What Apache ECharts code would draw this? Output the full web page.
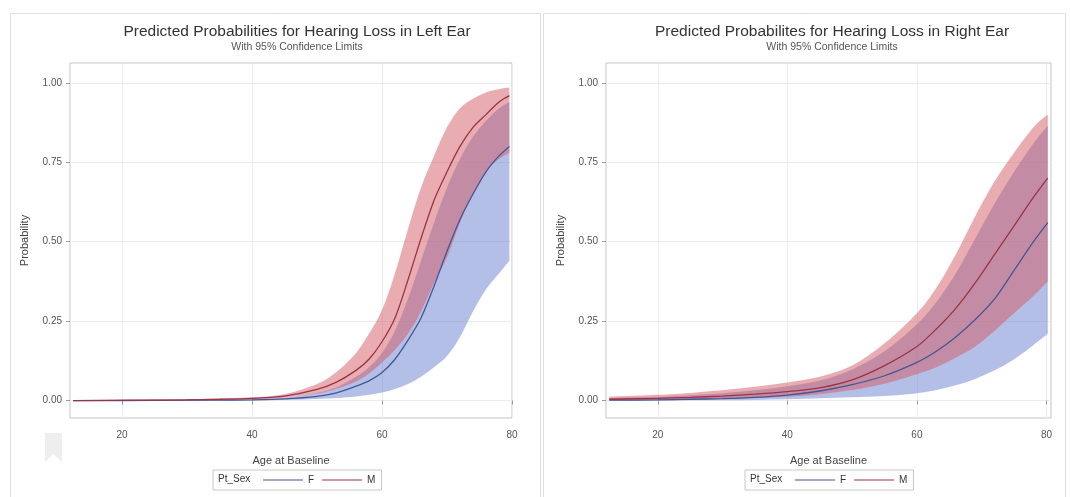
<!DOCTYPE html>
<html><head><meta charset="utf-8">
<script src="https://cdn.jsdelivr.net/npm/echarts@6/dist/echarts.min.js"></script>
<style>html,body{margin:0;padding:0;background:#fff}#c{width:1070px;height:497px}</style>
</head><body><div id="c"></div>
<script>
// ---- Data ----
const xTicks = [20, 40, 60, 80];
const yTicks = [0, 0.25, 0.5, 0.75, 1];

// Left ear
const leftAges   = [12.5, 20, 30, 35, 40, 45, 50, 53, 56, 58, 60, 62, 64, 66, 68, 70, 72, 74, 76, 78, 79.6];
const leftFLower = [0, 0, 0, 0, 0.001, 0.002, 0.005, 0.008, 0.013, 0.018, 0.025, 0.036, 0.052, 0.075, 0.105, 0.140, 0.200, 0.280, 0.350, 0.400, 0.440];
const leftFPred  = [0, 0, 0.001, 0.001, 0.002, 0.005, 0.013, 0.024, 0.045, 0.062, 0.088, 0.130, 0.190, 0.260, 0.360, 0.470, 0.570, 0.650, 0.720, 0.770, 0.800];
const leftFUpper = [0, 0.001, 0.001, 0.002, 0.004, 0.009, 0.024, 0.042, 0.075, 0.105, 0.150, 0.220, 0.320, 0.440, 0.560, 0.670, 0.760, 0.830, 0.880, 0.920, 0.940];
const leftMLower = [0, 0, 0.001, 0.002, 0.004, 0.009, 0.022, 0.037, 0.060, 0.085, 0.120, 0.160, 0.210, 0.280, 0.370, 0.450, 0.560, 0.650, 0.720, 0.760, 0.780];
const leftMPred  = [0, 0.001, 0.002, 0.004, 0.007, 0.014, 0.035, 0.058, 0.095, 0.130, 0.185, 0.260, 0.380, 0.510, 0.630, 0.720, 0.800, 0.860, 0.900, 0.940, 0.960];
const leftMUpper = [0.001, 0.002, 0.004, 0.006, 0.010, 0.020, 0.052, 0.090, 0.150, 0.210, 0.285, 0.400, 0.540, 0.670, 0.770, 0.860, 0.920, 0.950, 0.970, 0.980, 0.985];

// Right ear
const rightAges   = [12.5, 20, 25, 30, 35, 40, 45, 50, 55, 60, 63, 66, 69, 72, 75, 78, 80.2];
const rightFLower = [0, 0, 0.001, 0.001, 0.002, 0.004, 0.007, 0.010, 0.014, 0.023, 0.033, 0.048, 0.068, 0.095, 0.130, 0.175, 0.210];
const rightFPred  = [0.001, 0.002, 0.004, 0.006, 0.010, 0.017, 0.030, 0.050, 0.078, 0.120, 0.155, 0.200, 0.255, 0.320, 0.410, 0.500, 0.560];
const rightFUpper = [0.008, 0.012, 0.017, 0.023, 0.032, 0.045, 0.063, 0.098, 0.155, 0.240, 0.310, 0.400, 0.510, 0.620, 0.720, 0.810, 0.865];
const rightMLower = [0.001, 0.002, 0.003, 0.005, 0.008, 0.012, 0.020, 0.033, 0.053, 0.083, 0.105, 0.135, 0.170, 0.220, 0.275, 0.330, 0.375];
const rightMPred  = [0.004, 0.007, 0.010, 0.014, 0.020, 0.028, 0.040, 0.065, 0.110, 0.170, 0.225, 0.290, 0.370, 0.460, 0.550, 0.640, 0.700];
const rightMUpper = [0.012, 0.018, 0.024, 0.032, 0.043, 0.057, 0.075, 0.110, 0.180, 0.275, 0.355, 0.460, 0.580, 0.690, 0.780, 0.860, 0.900];

const titles = ['Predicted Probabilities for Hearing Loss in Left Ear', 'Predicted Probabilites for Hearing Loss in Right Ear'];
const subTitle = 'With 95% Confidence Limits';

// ---- Styles ----
const FONT = '"Liberation Sans", Arial, sans-serif';
const blueFill = '#6a7fd0', redFill = '#d45a62';
const blueLine = '#445694', redLine = '#9c3346';

const pairs = (xs, ys) => xs.map((x, i) => [x, ys[i]]);

// Catmull-Rom through pixel points -> SVG path commands (first point uses 'M' or 'L')
function crPath(pts, start) {
  let d = start + pts[0][0].toFixed(2) + ' ' + pts[0][1].toFixed(2);
  for (let i = 0; i < pts.length - 1; i++) {
    const p0 = pts[Math.max(0, i - 1)], p1 = pts[i], p2 = pts[i + 1], p3 = pts[Math.min(pts.length - 1, i + 2)];
    const c1 = [p1[0] + (p2[0] - p0[0]) / 6, p1[1] + (p2[1] - p0[1]) / 6];
    const c2 = [p2[0] - (p3[0] - p1[0]) / 6, p2[1] - (p3[1] - p1[1]) / 6];
    d += ' C' + c1[0].toFixed(2) + ' ' + c1[1].toFixed(2) + ' ' + c2[0].toFixed(2) + ' ' + c2[1].toFixed(2) + ' ' + p2[0].toFixed(2) + ' ' + p2[1].toFixed(2);
  }
  return d;
}

function bandSeries(name, idx, ages, lo, up, color) {
  return {
    type: 'custom', name: name, xAxisIndex: idx, yAxisIndex: idx, silent: true, clip: true,
    data: [[ages[0], lo[0]]],
    renderItem: function (params, api) {
      const upPts = ages.map((a, k) => api.coord([a, up[k]]));
      const loPts = ages.map((a, k) => api.coord([a, lo[k]])).reverse();
      const d = crPath(upPts, 'M') + ' ' + crPath(loPts, 'L') + ' Z';
      return {type: 'path', shape: {pathData: d}, style: {fill: color, opacity: 0.5, stroke: null}};
    }
  };
}

const panels = [
  {ages: leftAges, FL: leftFLower, FP: leftFPred, FU: leftFUpper, ML: leftMLower, MP: leftMPred, MU: leftMUpper, xmin: 12, xmax: 80},
  {ages: rightAges, FL: rightFLower, FP: rightFPred, FU: rightFUpper, ML: rightMLower, MP: rightMPred, MU: rightMUpper, xmin: 12, xmax: 80.7}
];
const grids = [
  {left: 70, top: 63, width: 442, height: 355},
  {left: 606, top: 63, width: 445, height: 355}
];

const series = [];
panels.forEach((p, i) => {
  const lineBase = {type: 'line', xAxisIndex: i, yAxisIndex: i, showSymbol: false, symbol: 'none', smooth: 0.3, silent: true};
  series.push(bandSeries('F band ' + i, i, p.ages, p.FL, p.FU, blueFill));
  series.push(Object.assign({}, lineBase, {name: 'F', data: pairs(p.ages, p.FP), color: blueLine, lineStyle: {color: blueLine, width: 1.3}}));
  series.push(bandSeries('M band ' + i, i, p.ages, p.ML, p.MU, redFill));
  series.push(Object.assign({}, lineBase, {name: 'M', data: pairs(p.ages, p.MP), color: redLine, lineStyle: {color: redLine, width: 1.3}}));
});

const xAxes = panels.map((p, i) => ({
  type: 'value', gridIndex: i, min: p.xmin, max: p.xmax,
  name: 'Age at Baseline', nameLocation: 'middle', nameGap: 37,
  nameTextStyle: {fontFamily: FONT, fontSize: 11, color: '#444'},
  axisLine: {show: false},
  axisTick: {show: true, length: 4, lineStyle: {color: '#999'}, customValues: xTicks},
  axisLabel: {customValues: xTicks, fontFamily: FONT, fontSize: 10, color: '#555', margin: 12},
  splitLine: {show: true, lineStyle: {color: '#ececec', width: 1}}
}));
const yAxes = panels.map((p, i) => ({
  type: 'value', gridIndex: i, min: -0.055, max: 1.0625,
  name: 'Probability', nameLocation: 'middle', nameGap: 40,
  nameTextStyle: {fontFamily: FONT, fontSize: 11, color: '#444'},
  axisLine: {show: false},
  axisTick: {show: true, length: 4, lineStyle: {color: '#999'}, customValues: yTicks},
  axisLabel: {customValues: yTicks, formatter: v => v.toFixed(2), fontFamily: FONT, fontSize: 10, color: '#555', margin: 8},
  splitLine: {show: true, lineStyle: {color: '#ececec', width: 1}}
}));

const legendCommon = {
  data: ['F', 'M'], orient: 'horizontal', top: 470, icon: 'rect', itemWidth: 40, itemHeight: 1,
  itemGap: 8, padding: [5, 6, 5, 50], borderColor: '#c8c8c8', borderWidth: 1,
  textStyle: {fontFamily: FONT, fontSize: 10, color: '#333'}, selectedMode: false
};

const option = {
  backgroundColor: '#fff',
  animation: false,
  title: [
    {text: titles[0], subtext: subTitle, left: 297, top: 24, textAlign: 'center', padding: 0, itemGap: 2,
      textStyle: {fontFamily: FONT, fontSize: 15.5, fontWeight: 'normal', color: '#333'},
      subtextStyle: {fontFamily: FONT, fontSize: 10.5, color: '#555'}},
    {text: titles[1], subtext: subTitle, left: 832, top: 24, textAlign: 'center', padding: 0, itemGap: 2,
      textStyle: {fontFamily: FONT, fontSize: 15.5, fontWeight: 'normal', color: '#333'},
      subtextStyle: {fontFamily: FONT, fontSize: 10.5, color: '#555'}}
  ],
  legend: [
    Object.assign({}, legendCommon, {left: 213}),
    Object.assign({}, legendCommon, {left: 745})
  ],
  grid: grids.map(g => Object.assign({show: true, borderColor: '#c4c4c4', borderWidth: 1, backgroundColor: '#fff'}, g)),
  xAxis: xAxes,
  yAxis: yAxes,
  series: series,
  graphic: [
    {type: 'rect', shape: {x: 10.5, y: 13.5, width: 530, height: 500}, style: {fill: 'none', stroke: '#dedede', lineWidth: 1}, z: -10},
    {type: 'rect', shape: {x: 543.5, y: 13.5, width: 522, height: 500}, style: {fill: 'none', stroke: '#dedede', lineWidth: 1}, z: -10},
    {type: 'polygon', shape: {points: [[45, 433], [62, 433], [62, 462], [53.5, 454], [45, 462]]}, style: {fill: '#eeeeee'}, z: -5},
    {type: 'text', left: 218, top: 474, style: {text: 'Pt_Sex', font: '10px ' + FONT, fill: '#333'}},
    {type: 'text', left: 750, top: 474, style: {text: 'Pt_Sex', font: '10px ' + FONT, fill: '#333'}}
  ]
};

const chart = echarts.init(document.getElementById('c'), null, {renderer: 'canvas'});
chart.setOption(option);
</script>
</body></html>
